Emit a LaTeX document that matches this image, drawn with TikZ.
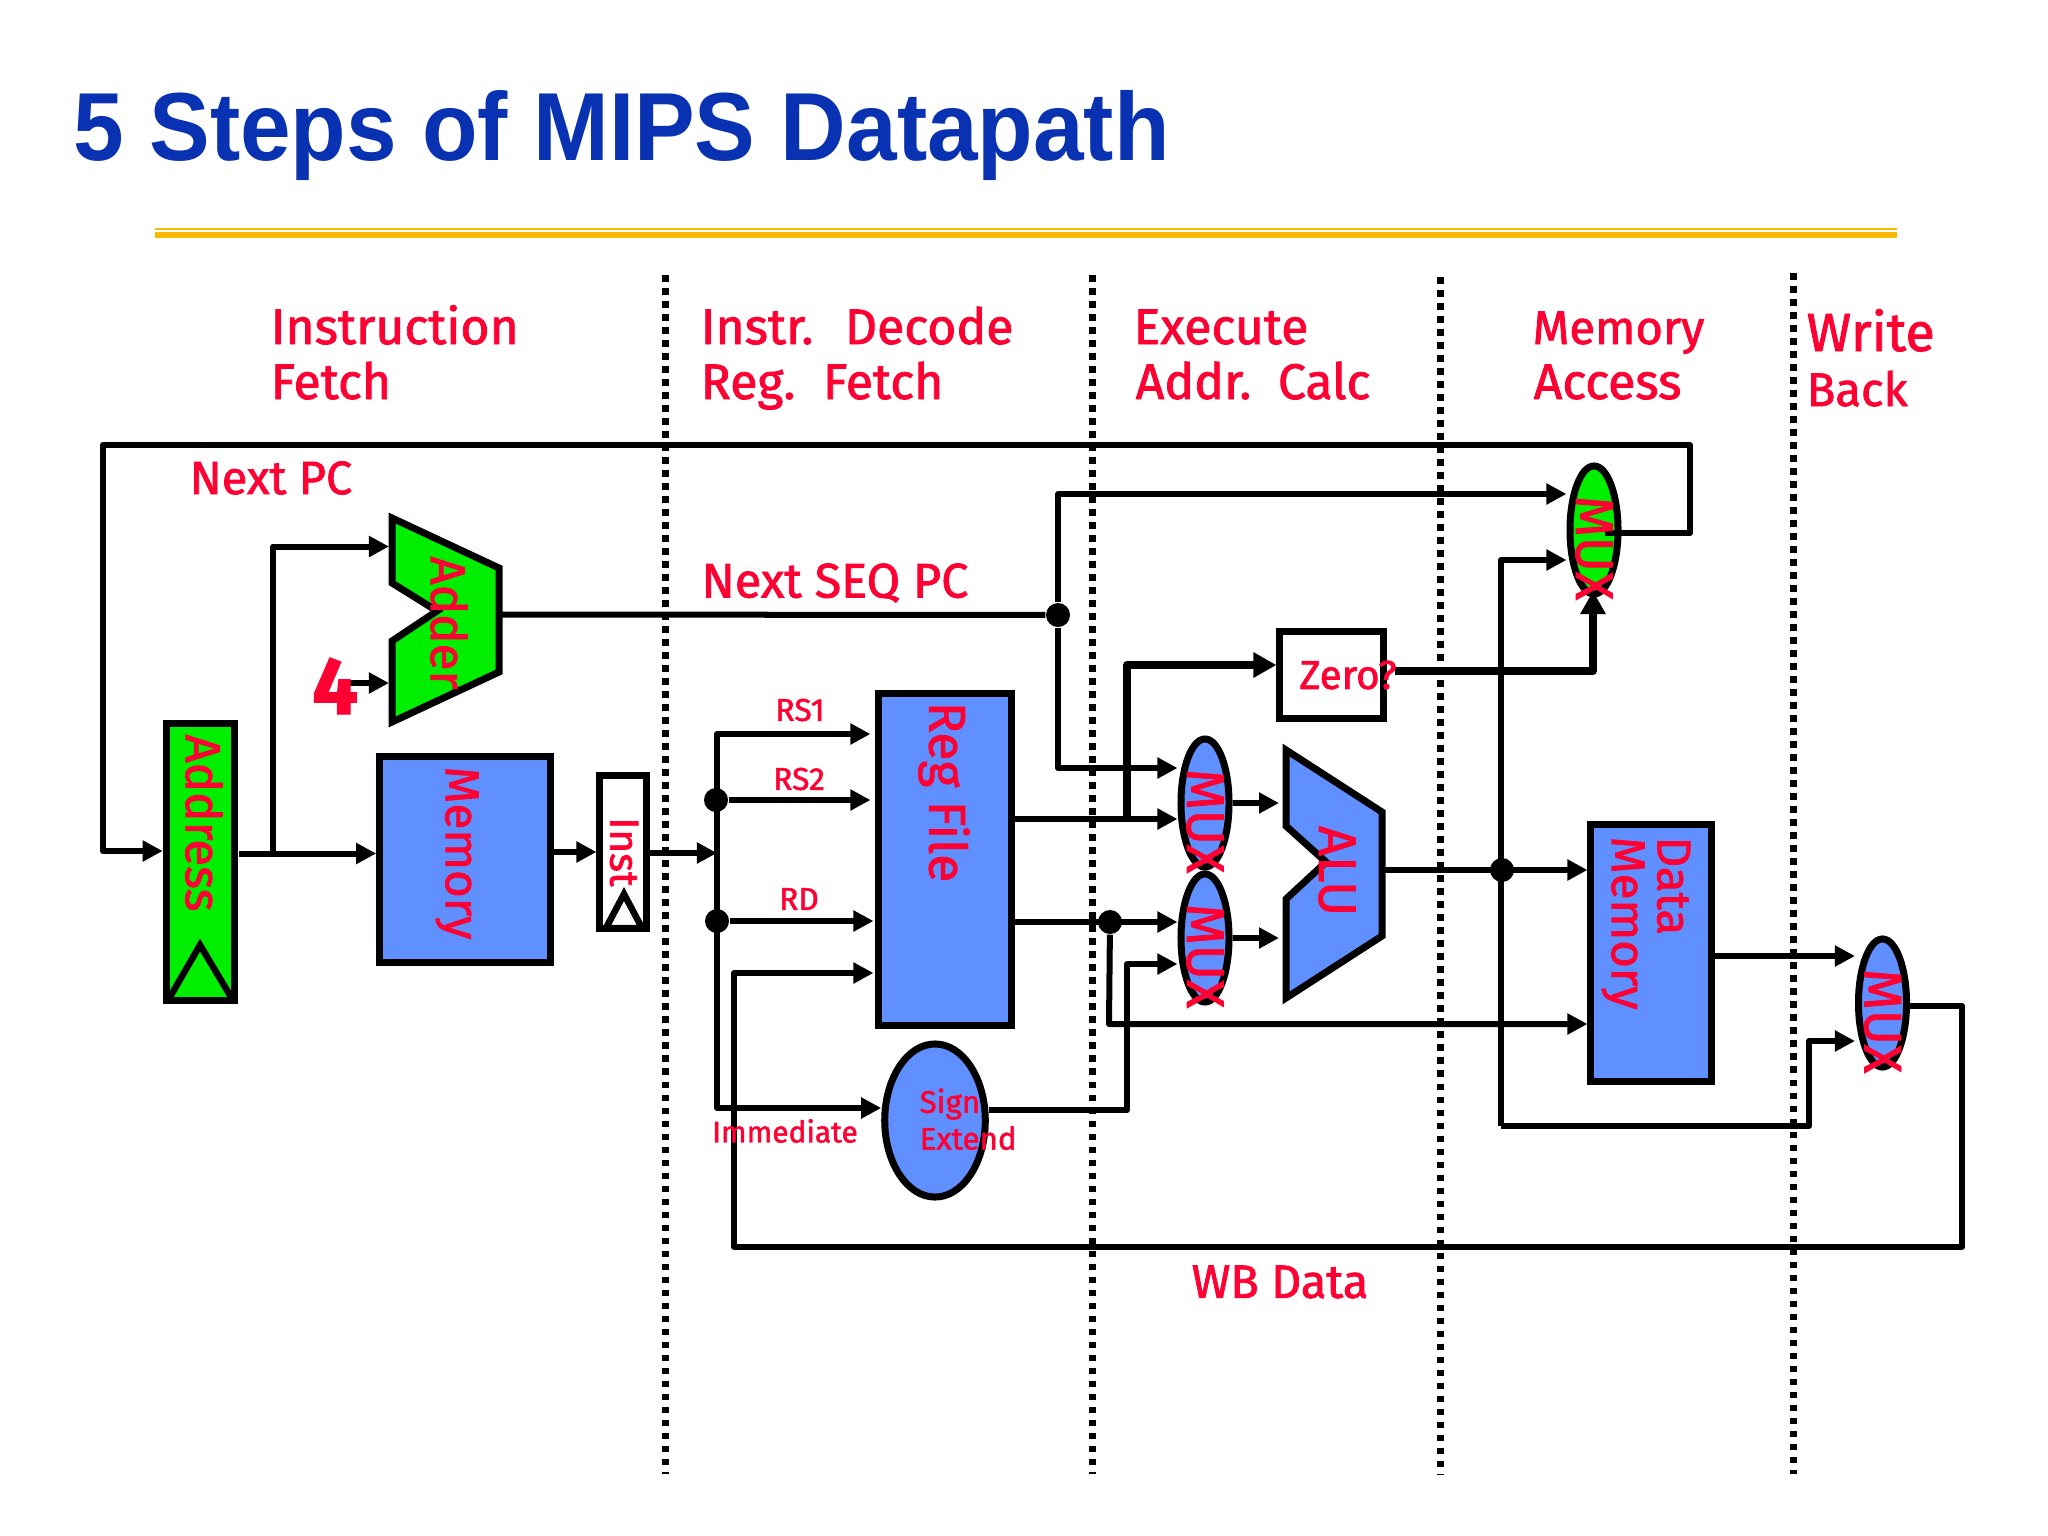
\documentclass[tikz,border=0pt]{standalone}
\usepackage{fontspec}
\setmainfont{Liberation Sans}
\newfontfamily\titlefont[FakeStretch=0.94]{Liberation Sans}
\newfontfamily\handfont[FakeBold=1.6]{Fira Sans}
\usetikzlibrary{arrows.meta,shapes.geometric}
\definecolor{slideblue}{RGB}{8,50,178}
\definecolor{rulegold}{RGB}{251,186,0}
\definecolor{labelred}{RGB}{255,0,51}
\definecolor{unitblue}{RGB}{96,143,255}
\definecolor{unitgreen}{RGB}{0,238,0}
\tikzset{
  wire/.style={line width=0.06cm,line join=round},
  thickwire/.style={line width=0.08cm,line join=round,-{Triangle[length=0.23cm,width=0.24cm]}},
  unit/.style={draw,line width=0.07cm,inner sep=0pt},
  hand/.style={text=labelred,font=\handfont\fontsize{13.3}{13.3}\selectfont,inner sep=0pt},
  steplabel/.style={hand,font=\handfont\fontsize{14.2}{14.2}\selectfont,anchor=base west},
  siglabel/.style={hand,font=\handfont\fontsize{9}{9}\selectfont},
  vertlabel/.style={hand,rotate=-90},
  junction/.style={circle,fill,inner sep=0pt,minimum size=0.24cm},
  stagesep/.style={line width=0.07cm,dash pattern=on 0.065cm off 0.065cm},
  muxunit/.style={unit,ellipse,minimum width=0.48cm,minimum height=1.28cm},
}
\begin{document}
\begin{tikzpicture}[x=0.01cm,y=-0.01cm,>={Triangle[length=0.2cm,width=0.2cm]}]
\useasboundingbox (0,0) rectangle (2048,1536);
% title and rule
\node[anchor=base west,inner sep=0pt,text=slideblue,font=\titlefont\fontsize{27.5}{27.5}\selectfont\bfseries] (title) at (73,160) {5 Steps of MIPS Datapath};
\coordinate (ruleL) at (155,229);
\coordinate (ruleR) at (1897,229);
\draw[rulegold,line width=0.025cm] (ruleL) -- (ruleR);
\draw[rulegold,line width=0.06cm] ([yshift=-0.06cm]ruleL) -- ([yshift=-0.06cm]ruleR);
% stage separators
\foreach \name/\x/\ytop in {a/665/275,b/1092.5/275,c/1440.5/277,d/1793/273}{
  \coordinate (sep\name top) at (\x,\ytop);
  \coordinate (sep\name bot) at (\x,1474);
  \draw[stagesep] (sep\name top) -- (sep\name bot);
}
% stage titles
\node[steplabel] (stepA) at (270,344) {Instruction};
\node[steplabel] (stepAb) at (270,399) {Fetch};
\node[steplabel] (stepB) at (700,344) {Instr.\hspace{0.14cm} Decode};
\node[steplabel] (stepBb) at (700,399) {Reg.\hspace{0.1cm} Fetch};
\node[steplabel] (stepC) at (1133,344) {Execute};
\node[steplabel] (stepCb) at (1135,399) {Addr.\hspace{0.09cm} Calc};
\node[steplabel,font=\handfont\fontsize{13.4}{13.4}\selectfont] (stepD) at (1532,344) {Memory};
\node[steplabel] (stepDb) at (1533,399) {Access};
\node[steplabel,font=\handfont\fontsize{15.3}{15.3}\selectfont] (stepE) at (1806,351) {Write};
\node[steplabel,font=\handfont\fontsize{13.4}{13.4}\selectfont] (stepEb) at (1806,406) {Back};
% units
\node[unit,fill=unitgreen,minimum width=0.685cm,minimum height=2.76cm] (pc) at (200.5,862) {};
\node[unit,fill=unitblue,minimum width=1.705cm,minimum height=2.05cm] (imem) at (465,859.5) {};
\node[unit,fill=white,minimum width=0.46cm,minimum height=1.535cm] (ir) at (623,852) {};
\node[unit,fill=unitblue,minimum width=1.32cm,minimum height=3.32cm] (regfile) at (945,859.5) {};
\node[unit,fill=unitblue,ellipse,minimum width=1.005cm,minimum height=1.53cm] (signext) at (935,1120.5) {};
\node[unit,fill=white,minimum width=1.03cm,minimum height=0.86cm] (zero) at (1331.5,675) {};
\node[unit,fill=unitblue,minimum width=1.2cm,minimum height=2.56cm] (dmem) at (1651,953) {};
\node[muxunit,fill=unitblue] (muxa) at (1205,803) {};
\node[muxunit,fill=unitblue] (muxb) at (1205,938) {};
\node[muxunit,fill=unitgreen] (muxpc) at (1594,530) {};
\node[muxunit,fill=unitblue] (muxwb) at (1882.5,1003) {};
% adder and alu
\draw[unit,fill=unitgreen,line join=miter] (392,518) -- (499,568) -- (499,672) -- (392,722) -- (392,641) -- (437,611) -- (392,583) -- cycle;
\draw[unit,fill=unitblue,line join=miter] (1286,750) -- (1382,812) -- (1382,936) -- (1286,998) -- (1286,899) -- (1326,862) -- (1286,826) -- cycle;
% clock triangles
\draw[line width=0.065cm,line join=miter] (170,997) -- (200,945) -- (231,997);
\draw[line width=0.065cm,line join=miter] (606,928) -- (624,894) -- (642,928) -- cycle;
% wire joints
\coordinate (adderOut) at (499,614.5);
\coordinate (adderInA) at (389,546.5);
\coordinate (adderInB) at (389,683);
\coordinate (pcOut) at (239,853.5);
\coordinate (pcBranch) at (273,853.5);
\coordinate (pcBranchUp) at (273,546.5);
\coordinate (fourOut) at (341,683);
\coordinate (nextpcL) at (103,851);
\coordinate (nextpcTL) at (103,445);
\coordinate (nextpcTR) at (1690,445);
\coordinate (nextpcBR) at (1690,533);
\coordinate (muxpcOut) at (1605,533);
\coordinate (busIn) at (717,853);
\coordinate (busTop) at (717,734);
\coordinate (busBot) at (717,1108);
\coordinate (seqUp) at (1058,494);
\coordinate (seqDown) at (1058,768);
\coordinate (wbBL) at (734,1247);
\coordinate (wbBR) at (1962,1247);
\coordinate (wbTL) at (734,973);
\coordinate (wbTR) at (1962,1006);
\coordinate (immCorner) at (1127,1110);
\coordinate (immUp) at (1127,964);
\coordinate (rfOutA) at (1011,819);
\coordinate (rfOutB) at (1011,922);
\coordinate (zeroCorner) at (1127,665);
\coordinate (zeroFrom) at (1127,819);
\coordinate (zeroOut) at (1395,671);
\coordinate (zeroElbow) at (1593,671);
\coordinate (muxpcCtl) at (1593,591);
\coordinate (memB) at (1109,1024);
\coordinate (aluOut) at (1382,870);
\coordinate (wbFeedTop) at (1501,560);
\coordinate (wbFeedBot) at (1501,1126);
\coordinate (wbFeedElbow) at (1809,1126);
\coordinate (wbFeedUp) at (1809,1041);
\coordinate (dmemOut) at (1711,956);
% junctions
\node[junction] (dotSeq) at (1058,615) {};
\node[junction] (dotRs) at (716,800) {};
\node[junction] (dotRd) at (717,921) {};
\node[junction] (dotRfb) at (1110,922) {};
\node[junction] (dotAlu) at (1502,870) {};
% connectors
\draw[wire,->] (muxpcOut |- nextpcBR) -- (nextpcBR) -- (nextpcTR) -- (nextpcTL) -- (nextpcL) -- (nextpcL -| pc.west);
\draw[wire,->] (pcOut) -- (pcOut -| imem.west);
\draw[wire,->] (pcBranch) -- (pcBranchUp) -- (adderInA);
\draw[wire,->] (fourOut) -- (adderInB);
\draw[wire] (adderOut) -- (dotSeq);
\draw[wire,->] (dotSeq) -- (seqUp) -- (seqUp -| muxpc.west);
\draw[wire,->] (dotSeq) -- (seqDown) -- (seqDown -| muxa.west);
\draw[wire,->] (imem.east |- ir.west) -- (ir.west);
\draw[wire,->] (ir.east |- busIn) -- (busIn);
\draw[wire,->,shorten >=0.05cm] (busIn) -- (busTop) -- (busTop -| regfile.west);
\draw[wire,->,shorten >=0.05cm] (dotRs) -- (dotRs -| regfile.west);
\draw[wire,->,shorten >=0.02cm] (dotRd) -- (dotRd -| regfile.west);
\draw[wire,->] (busIn) -- (busBot) -- (signext.west |- busBot);
\draw[wire,->,shorten >=0.02cm] (muxwb.east |- wbTR) -- (wbTR) -- (wbBR) -- (wbBL) -- (wbTL) -- (wbTL -| regfile.west);
\draw[wire,->] (rfOutA) -- (rfOutA -| muxa.west);
\draw[wire,->] (rfOutB) -- (rfOutB -| muxb.west);
\draw[wire,->] (dotRfb) -- (memB) -- (memB -| dmem.west);
\draw[wire,->] (signext.east |- immCorner) -- (immCorner) -- (immUp) -- (immUp -| muxb.west);
\draw[thickwire] (zeroFrom) -- (zeroCorner) -- (zeroCorner -| zero.west);
\draw[thickwire] (zeroOut) -- (zeroElbow) -- (muxpcCtl);
\draw[wire,->] (muxa.east) -- (muxa -| 1279,0);
\draw[wire,->] (muxb.east) -- (muxb -| 1279,0);
\draw[wire,->] (aluOut) -- (aluOut -| dmem.west);
\draw[wire,->] (wbFeedBot) -- (wbFeedTop) -- (wbFeedTop -| muxpc.west);
\draw[wire,->] (wbFeedBot) -- (wbFeedElbow) -- (wbFeedUp) -- (wbFeedUp -| muxwb.west);
\draw[wire,->] (dmemOut) -- (dmemOut -| muxwb.west);
% unit labels
\node[vertlabel,font=\handfont\fontsize{14}{14}\selectfont] (pctext) at (204,823) {Address};
\node[vertlabel,font=\handfont\fontsize{13.5}{13.5}\selectfont] (imemtext) at (457,853) {Memory};
\node[vertlabel,font=\handfont\fontsize{11.5}{11.5}\selectfont] (irtext) at (624,852) {Inst};
\node[vertlabel,font=\handfont\fontsize{14.7}{14.7}\selectfont] (regtext) at (944,792) {Reg File};
\node[vertlabel,font=\handfont\fontsize{14}{14}\selectfont] (addertext) at (449,623) {Adder};
\node[vertlabel,font=\handfont\fontsize{15}{15}\selectfont] (alutext) at (1337,871) {ALU};
\node[vertlabel,align=left,anchor=west,font=\handfont\fontsize{13.5}{13}\selectfont] (dmemtext) at (1646,836) {Data\\Memory};
\foreach \mx in {muxa,muxb,muxpc,muxwb}{
  \node[vertlabel,font=\handfont\fontsize{15}{15}\selectfont] (\mx text) at ([yshift=-0.18cm]\mx.center) {MUX};
}
\node[hand,font=\handfont\bfseries\fontsize{23}{23}\selectfont] (four) at (335,686) {4};
\node[hand,anchor=west,font=\handfont\fontsize{8.9}{8.9}\selectfont] (signtext) at (919,1104) {Sign};
\node[hand,anchor=west,font=\handfont\fontsize{8.9}{8.9}\selectfont] (extendtext) at (919,1138) {Extend};
\node[hand,font=\handfont\fontsize{11.5}{11.5}\selectfont] (zerotext) at (1348,675) {Zero?};
% signal labels
\node[hand] (nextpc) at (271,478) {Next PC};
\node[hand,font=\handfont\fontsize{13.8}{13.8}\selectfont] (nextseq) at (835,583) {Next SEQ PC};
\node[hand] (wbdata) at (1280,1282) {WB Data};
\node[siglabel] (rsone) at (800,710) {RS1};
\node[siglabel] (rstwo) at (799,779) {RS2};
\node[siglabel] (rdreg) at (799,899) {RD};
\node[siglabel,font=\handfont\fontsize{8.5}{8.5}\selectfont] (immed) at (785,1131) {Immediate};
\end{tikzpicture}
\end{document}
